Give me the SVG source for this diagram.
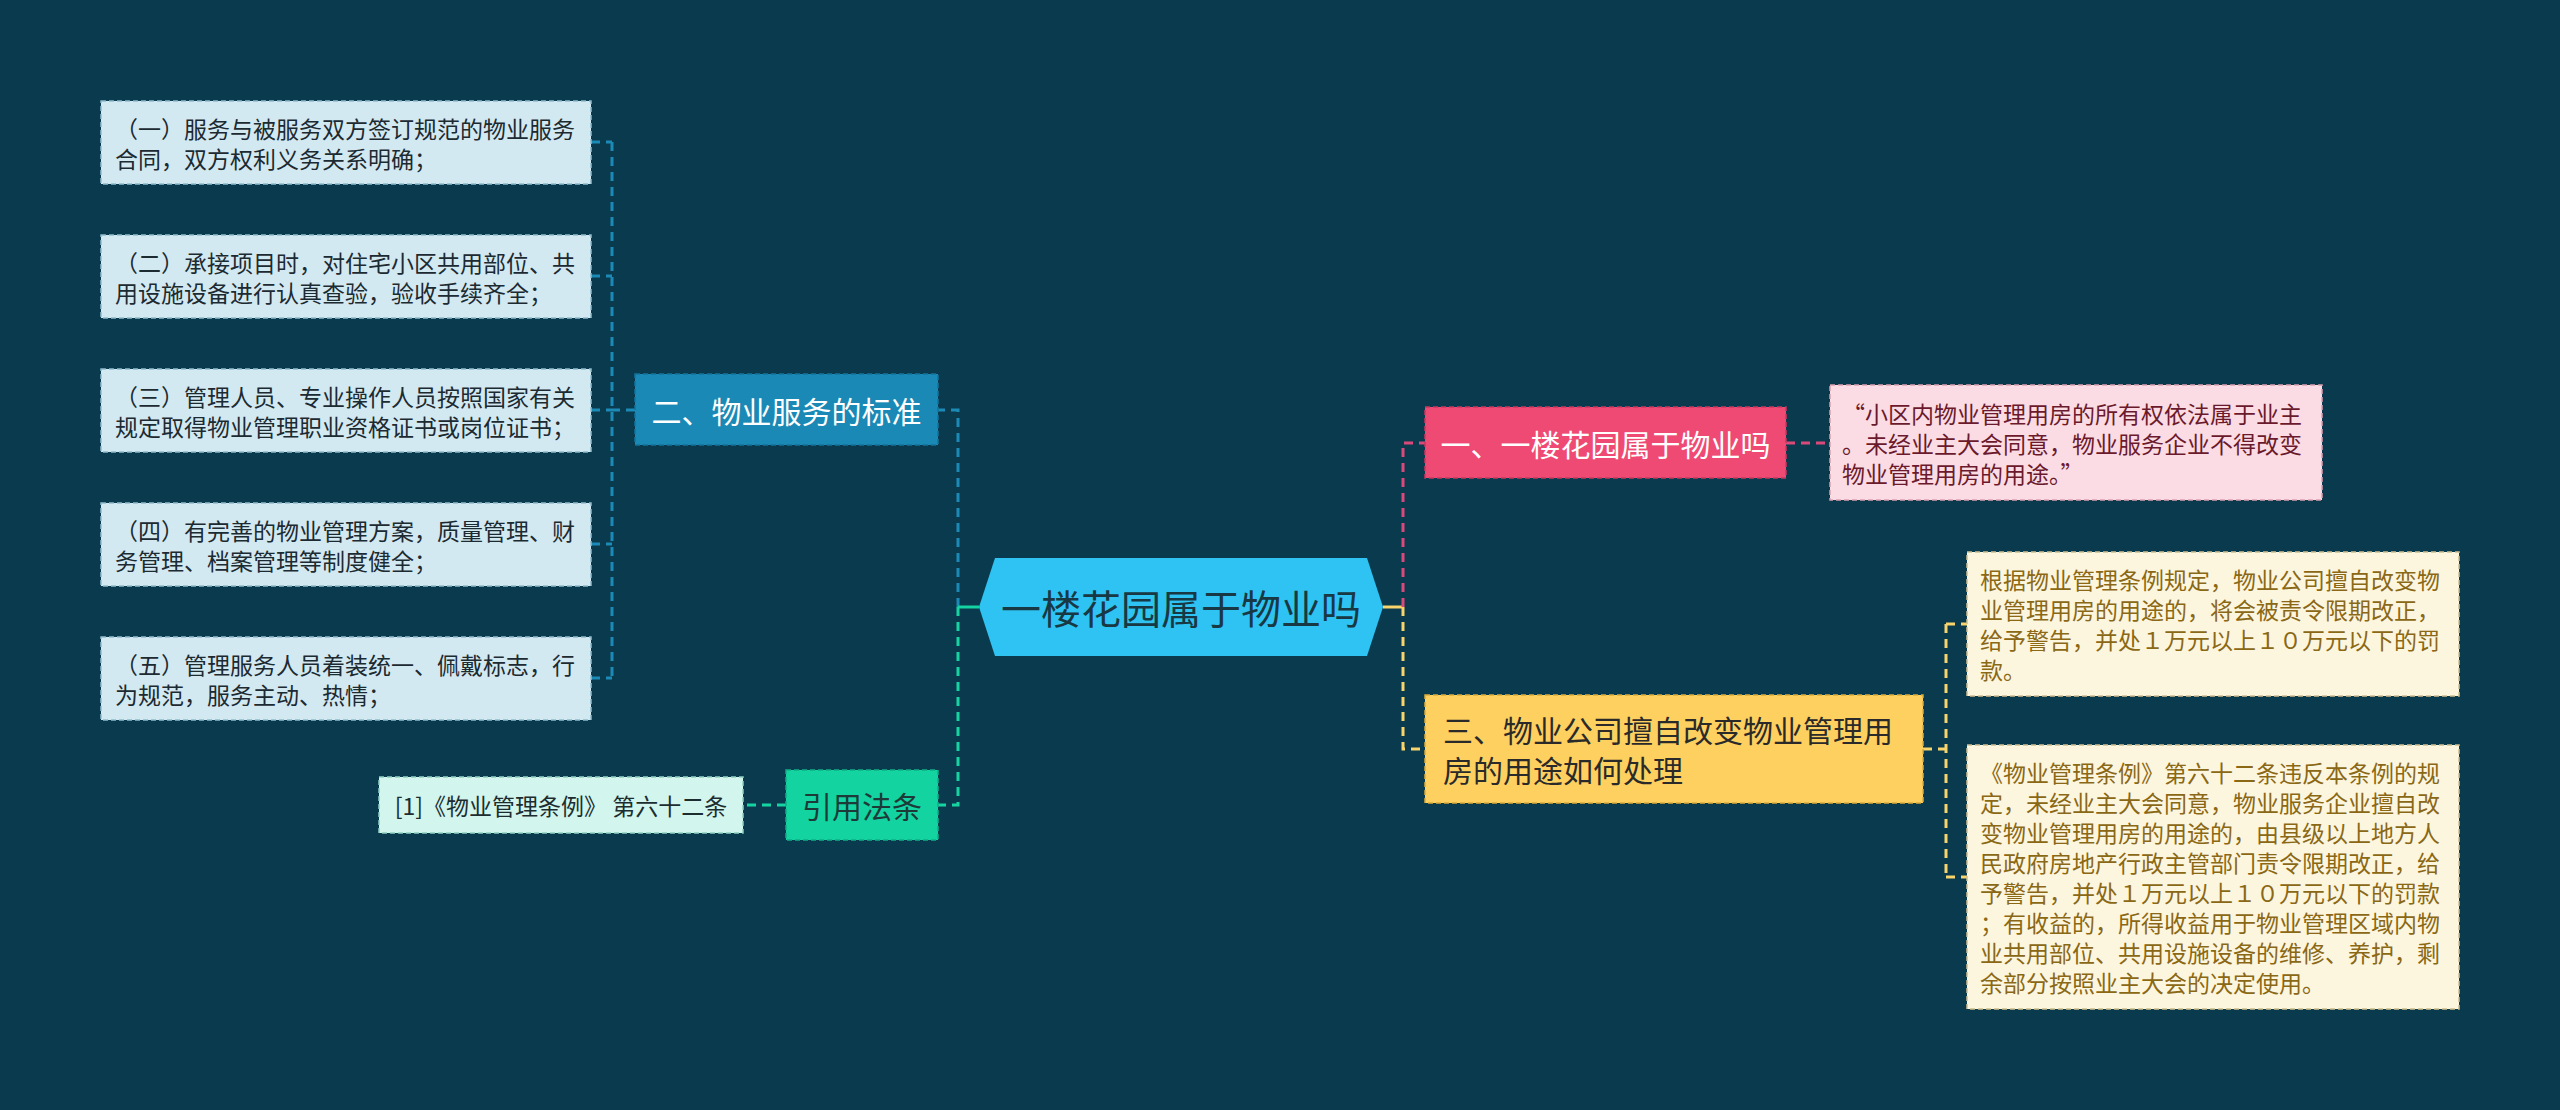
<svg xmlns="http://www.w3.org/2000/svg" width="2560" height="1110" viewBox="0 0 2560 1110">
<style>
text{font-family:"Noto Sans CJK SC","Noto Sans",sans-serif;dominant-baseline:central;}
.leaf{font-size:23px;}
.lb{fill:#d3e9f1;stroke:#8fbccd;stroke-width:1.5;stroke-dasharray:5 3;}
.lbt{fill:#1c2a32;}
.pk{fill:#fcdce4;stroke:#d9a0b0;stroke-width:1.5;stroke-dasharray:5 3;}
.pkt{fill:#6a1a2c;}
.yl{fill:#fdf6df;stroke:#cdbf8f;stroke-width:1.5;stroke-dasharray:5 3;}
.ylt{fill:#8a6815;}
.gr{fill:#d2f5ee;stroke:#8fcfc0;stroke-width:1.5;stroke-dasharray:5 3;}
.c{fill:none;stroke-width:3;stroke-dasharray:9 6;}
.cb{stroke:#1c8ab6;}
.cg{stroke:#16d3a2;}
.cp{stroke:#d9497a;}
.cy{stroke:#f7d46c;}
</style>
<rect width="2560" height="1110" fill="#0a3a4e"/>

<g id="connectors">
<path class="c cb" d="M635 410 H612 M612 142 V678 M591 142 H612 M591 276 H612 M591 410 H612 M591 544 H612 M591 678 H612"/>
<path class="c cb" d="M958 607 V410 H938"/>
<path class="c cg" d="M958 607 V805 H938"/>
<path d="M979 607 H958" stroke="#16d3a2" stroke-width="3" fill="none"/>
<path class="c cg" d="M786 805 H743"/>
<path d="M1383 607 H1403" stroke="#f7d46c" stroke-width="3" fill="none"/>
<path class="c cp" d="M1403 607 V443 H1425"/>
<path class="c cy" d="M1403 607 V749 H1425"/>
<path class="c cp" d="M1786 443 H1830"/>
<path class="c cy" d="M1923 749 H1946 M1946 624 V877 M1946 624 H1967 M1946 877 H1967"/>
</g>

<g id="center">
<polygon points="979,607 995,558 1367,558 1383,607 1367,656 995,656" fill="#2ec3f2"/>
<text x="1181" y="607" font-size="40" text-anchor="middle" fill="#183844">一楼花园属于物业吗</text>
</g>

<g id="n2">
<rect x="635" y="374" width="303" height="71" fill="#1a89b5" stroke="#13739a" stroke-width="1.5" stroke-dasharray="5 3"/>
<text x="786.5" y="410" font-size="30" text-anchor="middle" fill="#ffffff">二、物业服务的标准</text>
</g>

<g id="l1">
<rect class="lb" x="101" y="101" width="490" height="83"/>
<text class="leaf lbt" x="115" y="127.5">（一）服务与被服务双方签订规范的物业服务</text>
<text class="leaf lbt" x="115" y="157.5">合同，双方权利义务关系明确；</text>
</g>
<g id="l2">
<rect class="lb" x="101" y="235" width="490" height="83"/>
<text class="leaf lbt" x="115" y="261.5">（二）承接项目时，对住宅小区共用部位、共</text>
<text class="leaf lbt" x="115" y="291.5">用设施设备进行认真查验，验收手续齐全；</text>
</g>
<g id="l3">
<rect class="lb" x="101" y="369" width="490" height="83"/>
<text class="leaf lbt" x="115" y="395.5">（三）管理人员、专业操作人员按照国家有关</text>
<text class="leaf lbt" x="115" y="425.5">规定取得物业管理职业资格证书或岗位证书；</text>
</g>
<g id="l4">
<rect class="lb" x="101" y="503" width="490" height="83"/>
<text class="leaf lbt" x="115" y="529.5">（四）有完善的物业管理方案，质量管理、财</text>
<text class="leaf lbt" x="115" y="559.5">务管理、档案管理等制度健全；</text>
</g>
<g id="l5">
<rect class="lb" x="101" y="637" width="490" height="83"/>
<text class="leaf lbt" x="115" y="663.5">（五）管理服务人员着装统一、佩戴标志，行</text>
<text class="leaf lbt" x="115" y="693.5">为规范，服务主动、热情；</text>
</g>

<g id="ref">
<rect x="786" y="770" width="152" height="70" fill="#13d3a0" stroke="#0fae85" stroke-width="1.5" stroke-dasharray="5 3"/>
<text x="862" y="805" font-size="30" text-anchor="middle" fill="#1d3a38">引用法条</text>
</g>
<g id="ref1">
<rect class="gr" x="379" y="777" width="364" height="56"/>
<text class="leaf" x="561" y="805" font-size="22" text-anchor="middle" fill="#1c2d30">[1]《物业管理条例》 第六十二条</text>
</g>

<g id="n1">
<rect x="1425" y="407" width="361" height="71" fill="#ef4a73" stroke="#c93760" stroke-width="1.5" stroke-dasharray="5 3"/>
<text x="1605.5" y="443" font-size="30" text-anchor="middle" fill="#ffffff">一、一楼花园属于物业吗</text>
</g>
<g id="p1">
<rect class="pk" x="1830" y="385" width="492" height="115"/>
<text class="leaf pkt" x="1842" y="413">“小区内物业管理用房的所有权依法属于业主</text>
<text class="leaf pkt" x="1842" y="443">。未经业主大会同意，物业服务企业不得改变</text>
<text class="leaf pkt" x="1842" y="473">物业管理用房的用途。”</text>
</g>

<g id="n3">
<rect x="1425" y="695" width="498" height="108" fill="#fdd060" stroke="#d9aa3a" stroke-width="1.5" stroke-dasharray="5 3"/>
<text x="1443" y="729" font-size="30" fill="#2a2a2a">三、物业公司擅自改变物业管理用</text>
<text x="1443" y="769" font-size="30" fill="#2a2a2a">房的用途如何处理</text>
</g>
<g id="y1">
<rect class="yl" x="1967" y="552" width="492" height="144"/>
<text class="leaf ylt" x="1980" y="579">根据物业管理条例规定，物业公司擅自改变物</text>
<text class="leaf ylt" x="1980" y="609">业管理用房的用途的，将会被责令限期改正，</text>
<text class="leaf ylt" x="1980" y="639">给予警告，并处１万元以上１０万元以下的罚</text>
<text class="leaf ylt" x="1980" y="669">款。</text>
</g>
<g id="y2">
<rect class="yl" x="1967" y="745" width="492" height="264"/>
<text class="leaf ylt" x="1980" y="772">《物业管理条例》第六十二条违反本条例的规</text>
<text class="leaf ylt" x="1980" y="802">定，未经业主大会同意，物业服务企业擅自改</text>
<text class="leaf ylt" x="1980" y="832">变物业管理用房的用途的，由县级以上地方人</text>
<text class="leaf ylt" x="1980" y="862">民政府房地产行政主管部门责令限期改正，给</text>
<text class="leaf ylt" x="1980" y="892">予警告，并处１万元以上１０万元以下的罚款</text>
<text class="leaf ylt" x="1980" y="922">；有收益的，所得收益用于物业管理区域内物</text>
<text class="leaf ylt" x="1980" y="952">业共用部位、共用设施设备的维修、养护，剩</text>
<text class="leaf ylt" x="1980" y="982">余部分按照业主大会的决定使用。</text>
</g>
</svg>
